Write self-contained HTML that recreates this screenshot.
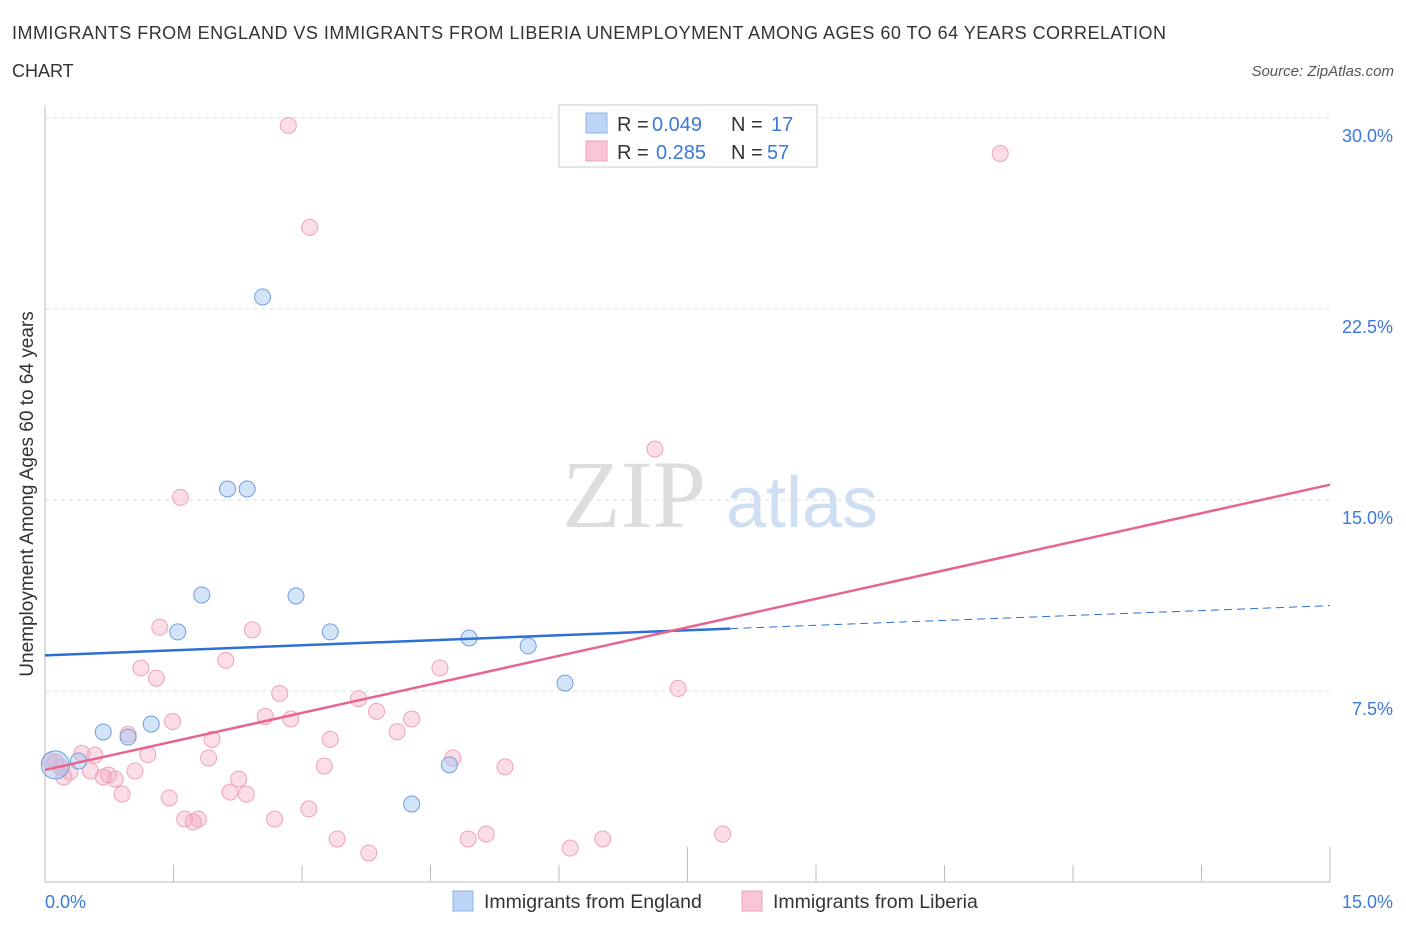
<!DOCTYPE html>
<html><head><meta charset="utf-8"><style>
body{margin:0;background:#fff;font-family:"Liberation Sans",sans-serif;}
svg{display:block}
</style></head><body>
<svg id="c" width="1406" height="930">
<text x="12" y="39" font-size="18" fill="#333" textLength="1154">IMMIGRANTS FROM ENGLAND VS IMMIGRANTS FROM LIBERIA UNEMPLOYMENT AMONG AGES 60 TO 64 YEARS CORRELATION</text>
<text x="12" y="77" font-size="18" fill="#333">CHART</text>
<text x="1394" y="76" font-size="15" font-style="italic" fill="#555" text-anchor="end">Source: ZipAtlas.com</text>
<text x="634" y="527" font-size="96" font-family="Liberation Serif,serif" fill="#ddd" text-anchor="middle">ZIP</text>
<text x="802" y="527" font-size="72" fill="#cfdff3" text-anchor="middle">atlas</text>
<g id="grid"></g><g id="marks"></g>
<text transform="translate(33,494) rotate(-90)" font-size="19" fill="#333" text-anchor="middle">Unemployment Among Ages 60 to 64 years</text>
<text x="45" y="908" font-size="18" fill="#3b78d8">0.0%</text>
<text x="1393" y="908" font-size="18" fill="#3b78d8" text-anchor="end">15.0%</text>
<g>
<rect x="559" y="105" width="258" height="62" fill="#fff" stroke="#ccc"/>
<rect x="586" y="113" width="21" height="20" fill="#bcd5f5" stroke="#8fb4e6"/>
<rect x="586" y="141" width="21" height="20" fill="#f9c6d5" stroke="#eea3ba"/>
<text x="617" y="131" font-size="20" fill="#333">R =</text>
<text x="652" y="131" font-size="20" fill="#3b78d8">0.049</text>
<text x="731" y="131" font-size="20" fill="#333">N =</text>
<text x="771" y="131" font-size="20" fill="#3b78d8">17</text>
<text x="617" y="159" font-size="20" fill="#333">R =</text>
<text x="656" y="159" font-size="20" fill="#3b78d8">0.285</text>
<text x="731" y="159" font-size="20" fill="#333">N =</text>
<text x="767" y="159" font-size="20" fill="#3b78d8">57</text>
</g>
<g>
<rect x="453" y="891" width="20" height="20" fill="#bcd5f5" stroke="#8fb4e6"/>
<text x="484" y="908" font-size="19.5" fill="#333">Immigrants from England</text>
<rect x="742" y="891" width="20" height="20" fill="#f9c6d5" stroke="#eea3ba"/>
<text x="773" y="908" font-size="19.5" fill="#333">Immigrants from Liberia</text>
</g>
</svg>
<script>
const yTicks=[7.5,15,22.5,30];
const yTickLabels=["7.5%","15.0%","22.5%","30.0%"];
const englandX=[0.12,0.39,0.68,0.97,1.24,1.55,1.83,2.13,2.36,2.54,2.93,3.33,4.28,4.72,4.95,5.64,6.07];
const englandY=[4.6,4.75,5.89,5.69,6.2,9.82,11.27,15.43,15.43,22.97,11.23,9.82,3.06,4.6,9.58,9.27,7.81];
const liberiaX=[2.84,11.15,3.09,7.12,1.58,1.34,2.42,1.12,2.11,1.30,4.61,7.39,2.74,3.66,2.57,2.87,3.87,4.28,1.49,0.97,4.11,1.95,3.33,1.20,0.58,0.43,1.91,4.76,0.12,0.29,0.22,0.53,0.74,0.82,0.68,1.05,3.26,5.37,2.26,2.16,2.35,0.90,1.45,3.08,1.63,1.79,1.73,2.68,3.41,3.78,4.94,5.15,6.13,6.51,7.91,0.18,0.06];
const liberiaY=[29.7,28.6,25.7,17.0,15.1,10.0,9.9,8.4,8.7,8.0,8.4,7.6,7.4,7.2,6.5,6.4,6.7,6.4,6.3,5.8,5.9,5.6,5.6,5.0,4.98,5.05,4.87,4.87,4.71,4.32,4.12,4.36,4.20,4.04,4.12,4.36,4.55,4.52,4.04,3.53,3.45,3.45,3.30,2.87,2.47,2.47,2.36,2.47,1.69,1.14,1.69,1.88,1.33,1.69,1.88,4.51,4.75];
const englandLine=[[0,8.9],[8.0,9.95]];
const englandDash=[[8.0,9.95],[15,10.85]];
const liberiaLine=[[0,4.4],[15,15.6]];
const X=v=>45+v*85.67, Y=v=>882-v*25.47;
const NS="http://www.w3.org/2000/svg";
const grid=document.getElementById('grid'), marks=document.getElementById('marks');
function mk(p,tag,a){const e=document.createElementNS(NS,tag);for(const k in a)e.setAttribute(k,a[k]);p.appendChild(e);return e;}
yTicks.forEach((t,i)=>{
 const l=mk(grid,'line',{x1:45,x2:1330,y1:Y(t),y2:Y(t),stroke:'#ddd','stroke-dasharray':'4 4'});
 
 
 const tx=mk(grid,'text',{x:1393,y:Y(t)+24,'font-size':18,fill:'#3b78d8','text-anchor':'end'});
 tx.textContent=yTickLabels[i];
 
 
});
const ax=mk(grid,'line',{x1:45,x2:1330,y1:882,y2:882,stroke:'#bbb'});


const ay=mk(grid,'line',{x1:45,x2:45,y1:105,y2:882,stroke:'#bbb'});


for(let i=1;i<=10;i++){const x=45+i*128.5;const t=mk(grid,'line',{x1:x,x2:x,y1:882,y2:i%5==0?847:865,stroke:'#bbb'});
 
 }
liberiaX.forEach((v,i)=>{const c=mk(marks,'circle',{cx:X(v),cy:Y(liberiaY[i]),r:8,fill:'rgba(246,170,195,0.4)',stroke:'#eea3ba','stroke-width':1});
 
 });
englandX.forEach((v,i)=>{const c=mk(marks,'circle',{cx:X(v),cy:Y(englandY[i]),r:i==0?14:8,fill:'rgba(160,195,240,0.45)',stroke:'#6f9fdc','stroke-width':1});
 
 });
const l1=mk(marks,'line',{x1:X(englandLine[0][0]),y1:Y(englandLine[0][1]),x2:X(englandLine[1][0]),y2:Y(englandLine[1][1]),stroke:'#2d6fd6','stroke-width':2.5});


const l2=mk(marks,'line',{x1:X(englandDash[0][0]),y1:Y(englandDash[0][1]),x2:X(englandDash[1][0]),y2:Y(englandDash[1][1]),stroke:'#2d6fd6','stroke-width':1,'stroke-dasharray':'8 5'});


const l3=mk(marks,'line',{x1:X(liberiaLine[0][0]),y1:Y(liberiaLine[0][1]),x2:X(liberiaLine[1][0]),y2:Y(liberiaLine[1][1]),stroke:'#e8648f','stroke-width':2.5});


</script>
</body></html>
